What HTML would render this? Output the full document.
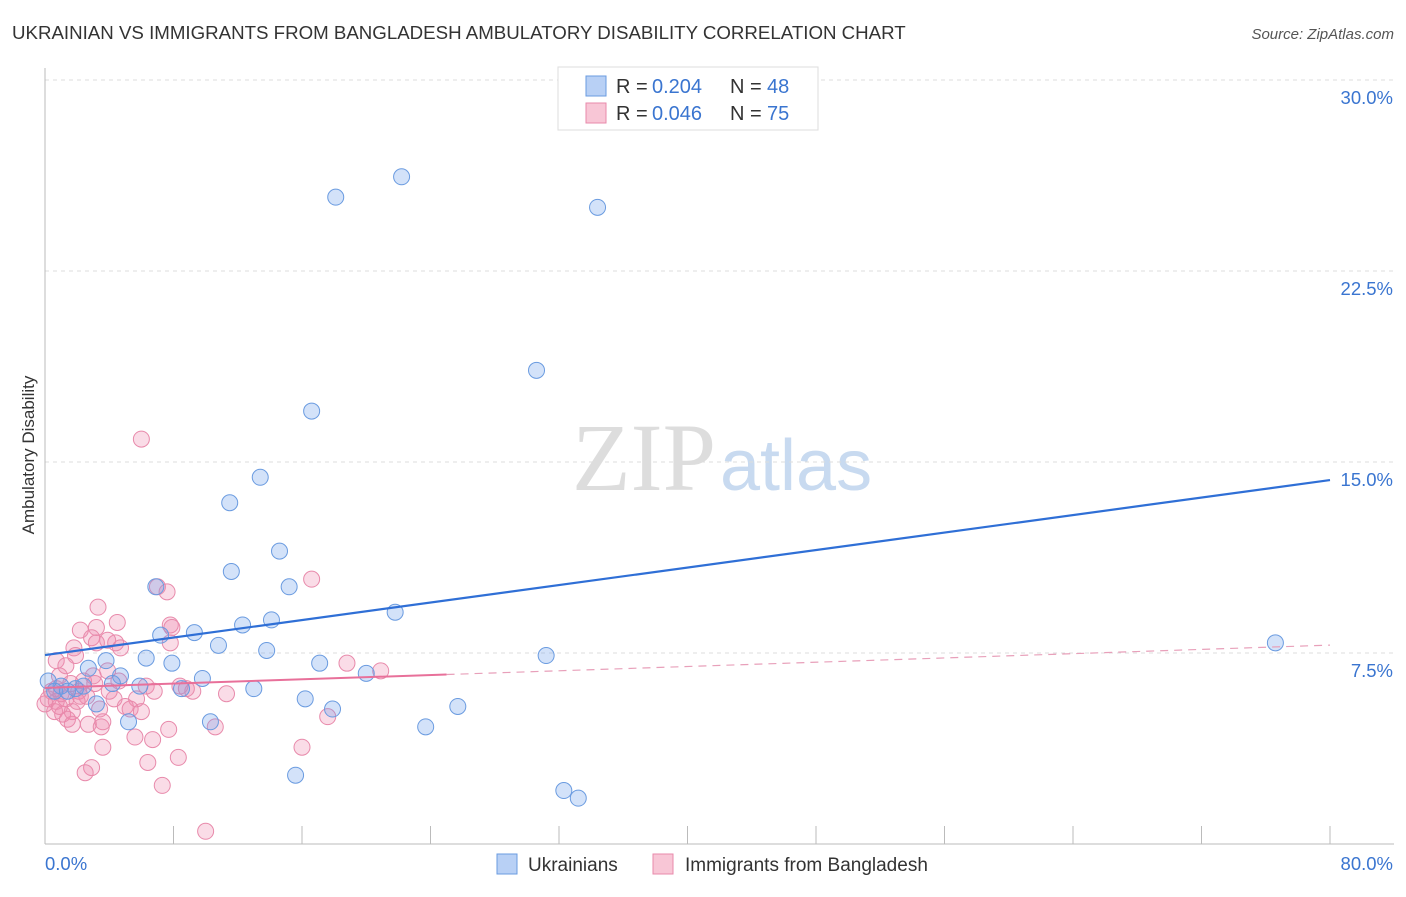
<!DOCTYPE html>
<html><head><meta charset="utf-8"><style>
body{margin:0;background:#fff;font-family:"Liberation Sans",sans-serif;}
</style></head><body>
<svg width="1406" height="892" xmlns="http://www.w3.org/2000/svg" font-family="Liberation Sans, sans-serif">
<text x="12" y="39" font-size="18.7" fill="#333">UKRAINIAN VS IMMIGRANTS FROM BANGLADESH AMBULATORY DISABILITY CORRELATION CHART</text>
<text x="1394" y="39" font-size="15" fill="#555" font-style="italic" text-anchor="end">Source: ZipAtlas.com</text>
<text x="716" y="490" font-size="96" fill="#ddd" font-family="Liberation Serif, serif" text-anchor="end">ZIP</text>
<text x="720" y="490" font-size="72" fill="#c8daf0" text-anchor="start">atlas</text>
<g id="grid"></g><g id="axes"></g><g id="marks"></g>
<text x="34" y="455" font-size="17" fill="#333" text-anchor="middle" transform="rotate(-90 34 455)">Ambulatory Disability</text>
<g>
<rect x="558" y="67" width="260" height="63" fill="#fff" stroke="#ddd"/>
<rect x="586" y="76" width="20" height="20" fill="#b8d0f5" stroke="#6a9be0"/>
<text x="616" y="93" font-size="20" fill="#333">R =</text>
<text x="652" y="93" font-size="20" fill="#3a75d0">0.204</text>
<text x="730" y="93" font-size="20" fill="#333">N =</text>
<text x="767" y="93" font-size="20" fill="#3a75d0">48</text>
<rect x="586" y="103" width="20" height="20" fill="#f8c6d6" stroke="#e88aab"/>
<text x="616" y="120" font-size="20" fill="#333">R =</text>
<text x="652" y="120" font-size="20" fill="#3a75d0">0.046</text>
<text x="730" y="120" font-size="20" fill="#333">N =</text>
<text x="767" y="120" font-size="20" fill="#3a75d0">75</text>
</g>
<g>
<rect x="497" y="854" width="20" height="20" fill="#b8d0f5" stroke="#6a9be0"/>
<text x="528" y="871" font-size="19" fill="#333">Ukrainians</text>
<rect x="653" y="854" width="20" height="20" fill="#f8c6d6" stroke="#e88aab"/>
<text x="685" y="871" font-size="19" fill="#333">Immigrants from Bangladesh</text>
</g>
</svg>
<script>
const yTicks=[7.5,15,22.5,30];
const yTickLabels=["7.5%","15.0%","22.5%","30.0%"];
const blueX=[22.2,18.1,34.4,30.6,16.6,13.4,11.5,14.6,11.6,15.2,6.9,21.8,14.1,12.3,9.3,7.2,10.8,13.8,31.2,76.6,6.3,7.9,17.1,3.8,2.7,20.0,9.8,4.7,4.2,5.9,8.5,13.0,1.0,0.6,1.9,0.2,3.2,16.2,17.9,25.7,5.2,10.3,23.7,15.6,32.3,33.2,1.4,2.4];
const blueY=[26.2,25.4,25.0,18.6,17.0,14.4,13.4,11.5,10.7,10.1,10.1,9.1,8.8,8.6,8.3,8.2,7.8,7.6,7.4,7.9,7.3,7.1,7.1,7.2,6.9,6.7,6.5,6.6,6.3,6.2,6.1,6.1,6.2,6.0,6.1,6.4,5.5,5.7,5.3,5.4,4.8,4.8,4.6,2.7,2.1,1.8,6.0,6.2];
const pinkX=[6.0,16.6,7.0,7.6,3.3,4.5,7.8,2.2,3.2,2.9,4.4,7.8,1.8,3.2,4.7,3.9,1.9,0.7,1.3,18.8,20.9,3.9,3.0,2.4,0.9,3.1,2.1,4.0,6.3,8.4,9.2,11.3,0.4,0.2,0.7,1.3,2.6,4.3,5.7,0.6,1.1,1.7,5.0,5.3,6.0,1.4,1.7,2.7,3.5,3.6,5.6,6.7,7.7,10.6,17.6,3.6,16.0,6.4,8.3,2.9,2.5,7.3,10.0,0.7,1.0,1.6,4.6,6.8,8.8,0.0,2.0,0.9,3.4,7.9,2.2];
const pinkY=[15.9,10.4,10.1,9.9,9.3,8.7,8.6,8.4,8.5,8.1,7.9,7.9,7.7,7.9,7.7,8.0,7.4,7.2,7.0,7.1,6.8,6.8,6.6,6.4,6.6,6.3,6.0,6.0,6.2,6.2,6.0,5.9,6.0,5.7,5.6,5.7,5.8,5.7,5.7,5.2,5.1,5.2,5.4,5.3,5.2,4.9,4.7,4.7,4.6,4.8,4.2,4.1,4.5,4.6,5.0,3.8,3.8,3.2,3.4,3.0,2.8,2.3,0.5,6.1,5.9,6.3,6.4,6.0,6.1,5.5,5.6,5.4,5.3,8.5,5.8];
const blueTrend=[7.42,14.29];
const pinkTrend=[6.13,7.81];
const NS="http://www.w3.org/2000/svg";
const X=v=>45+v/80*1285, Y=v=>844-v/7.5*191;
function mk(t,a,p){const e=document.createElementNS(NS,t);for(const k in a)e.setAttribute(k,a[k]);p.appendChild(e);return e;}
const g=document.getElementById('grid'),ax=document.getElementById('axes'),m=document.getElementById('marks');
yTicks.forEach((t,i)=>{const l=mk('line',{x1:45,x2:1394,y1:Y(t),y2:Y(t),stroke:'#ddd','stroke-dasharray':'4,4'},g);

const tx=mk('text',{x:1393,y:Y(t)+24,'font-size':18.5,fill:'#3a75d0','text-anchor':'end'},ax);tx.textContent=yTickLabels[i];
});
const a1=mk('line',{x1:45,x2:1394,y1:844,y2:844,stroke:'#bbb'},ax);
const a2=mk('line',{x1:45,x2:45,y1:68,y2:844,stroke:'#bbb'},ax);
for(let i=1;i<=10;i++){const t=mk('line',{x1:X(i*8),x2:X(i*8),y1:826,y2:844,stroke:'#bbb'},ax);}
const xl=mk('text',{x:45,y:870,'font-size':18.5,fill:'#3a75d0'},ax);xl.textContent='0.0%';
const xr=mk('text',{x:1393,y:870,'font-size':18.5,fill:'#3a75d0','text-anchor':'end'},ax);xr.textContent='80.0%';
pinkX.forEach((v,i)=>{const c=mk('circle',{cx:X(v),cy:Y(pinkY[i]),r:8,fill:'rgba(240,140,175,0.3)',stroke:'#e88aab','stroke-width':1},m);});
blueX.forEach((v,i)=>{const c=mk('circle',{cx:X(v),cy:Y(blueY[i]),r:8,fill:'rgba(110,160,235,0.3)',stroke:'#6a9be0','stroke-width':1},m);});
const pAt=x=>pinkTrend[0]+(pinkTrend[1]-pinkTrend[0])*x/80;
const pSplit=25.0;
const p1=mk('line',{x1:X(0),y1:Y(pinkTrend[0]),x2:X(pSplit),y2:Y(pAt(pSplit)),stroke:'#e8709a','stroke-width':2},m);
const p2=mk('line',{x1:X(pSplit),y1:Y(pAt(pSplit)),x2:X(80),y2:Y(pinkTrend[1]),stroke:'#e8a0ba','stroke-width':1.2,'stroke-dasharray':'8,6'},m);
const b=mk('line',{x1:X(0),y1:Y(blueTrend[0]),x2:X(80),y2:Y(blueTrend[1]),stroke:'#2f6fd6','stroke-width':2.2},m);
</script>
</body></html>
